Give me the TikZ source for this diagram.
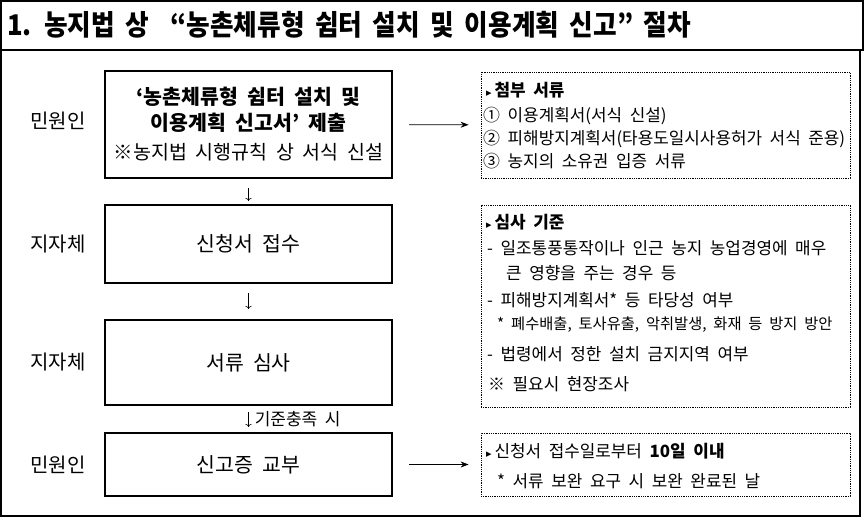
\documentclass[tikz,border=0pt]{standalone}
\usepackage{fontspec}
\setmainfont{Noto Sans CJK KR}[WordSpace=2]
\newfontfamily\titlefont{Noto Sans CJK KR}[FakeStretch=0.9,WordSpace=1.8]
\newfontfamily\symfont{DejaVu Sans}
\usetikzlibrary{
    arrows.meta,
    positioning
}

\begin{document}
\begin{tikzpicture}[x=1pt, y=-1pt,
    frame/.style={draw, line width=1.2pt},
    stepbox/.style={draw, line width=2.2pt, minimum width=287pt, inner sep=0pt, align=center, font=\fontsize{20.5}{24}\selectfont},
    notebox/.style={draw, densely dotted, line width=0.8pt, minimum width=369pt, inner sep=0pt},
    who/.style={font=\fontsize{20}{24}\selectfont},
    note/.style={anchor=west, inner sep=0pt, font=\fontsize{16.9}{20}\selectfont},
    small/.style={anchor=west, inner sep=0pt, font=\fontsize{15.3}{18}\selectfont},
    down/.style={-{To[length=3pt]}, line width=0.6pt},
    toside/.style={-{Stealth[length=8pt, width=6pt]}, line width=0.8pt}
]
    \useasboundingbox (0, 0) rectangle (865, 517);
    \draw[frame] (1, 1) rectangle (863, 50);
    \draw[frame] (1, 50) rectangle (860, 516);
    \node[anchor=west, inner sep=0pt, font=\titlefont\bfseries\fontsize{28.5}{32}\selectfont] (title) at (7, 25)
        {1. 농지법 상 \ “농촌체류형 쉼터 설치 및 이용계획 신고” 절차};

    \node[who] (who1) at (58, 121) {민원인};
    \node[who] (who2) at (58, 244) {지자체};
    \node[who] (who3) at (58, 362) {지자체};
    \node[who] (who4) at (58, 465) {민원인};

    \node[stepbox, minimum height=107pt] (submit) at (248.5, 124.5)
        {\bfseries ‘농촌체류형 쉼터 설치 및\\[2pt] \bfseries 이용계획 신고서’ 제출\\[5pt]
         \fontsize{19.5}{23}\selectfont ※농지법 시행규칙 상 서식 신설};
    \node[stepbox, minimum height=78pt] (receive) at (248.5, 244) {신청서 접수};
    \node[stepbox, minimum height=85pt] (review) at (248.5, 362.5) {서류 심사};
    \node[stepbox, minimum height=63pt] (issue) at (248.5, 464.5) {신고증 교부};

    \node[notebox, minimum height=106pt] (docs) at (665.5, 125) {};
    \node[notebox, minimum height=202pt] (rules) at (665.5, 306) {};
    \node[notebox, minimum height=63pt] (term) at (665.5, 464.5) {};

    \node[note] (docs0) at (486, 90) {{\symfont\fontsize{11}{11}\selectfont ▸}\,\bfseries 첨부 서류};
    \node[note] (docs1) at (483, 116) {① 이용계획서(서식 신설)};
    \node[note] (docs2) at (483, 139) {② 피해방지계획서(타용도일시사용허가 서식 준용)};
    \node[note] (docs3) at (483, 161) {③ 농지의 소유권 입증 서류};

    \node[note] (rules0) at (486, 222) {{\symfont\fontsize{11}{11}\selectfont ▸}\,\bfseries 심사 기준};
    \node[note] (rules1) at (487, 248) {- 일조통풍통작이나 인근 농지 농업경영에 매우};
    \node[note] (rules2) at (506, 273) {큰 영향을 주는 경우 등};
    \node[note] (rules3) at (487, 300) {- 피해방지계획서* 등 타당성 여부};
    \node[small] (rules4) at (497, 325) {* 폐수배출, 토사유출, 악취발생, 화재 등 방지 방안};
    \node[note] (rules5) at (487, 354) {- 법령에서 정한 설치 금지지역 여부};
    \node[note] (rules6) at (488, 384) {※ 필요시 현장조사};

    \node[note] (term0) at (486, 451) {{\symfont\fontsize{11}{11}\selectfont ▸}\,신청서 접수일로부터 \textbf{10일 이내}};
    \node[note] (term1) at (497, 481) {* 서류 보완 요구 시 보완 완료된 날};

    \draw
    (submit) edge[down, shorten <=9pt, shorten >=3pt] (receive)
    (receive) edge[down, shorten <=9pt, shorten >=10pt] (review)
    (review) edge[down, shorten <=6pt, shorten >=5pt]
        node[right=6pt, inner sep=0pt, font=\fontsize{17}{20}\selectfont] {기준충족 시} (issue)
    (submit) edge[toside, shorten <=16pt, shorten >=12pt] (docs)
    (issue) edge[toside, shorten <=16pt, shorten >=12pt] (term);
\end{tikzpicture}
\end{document}
